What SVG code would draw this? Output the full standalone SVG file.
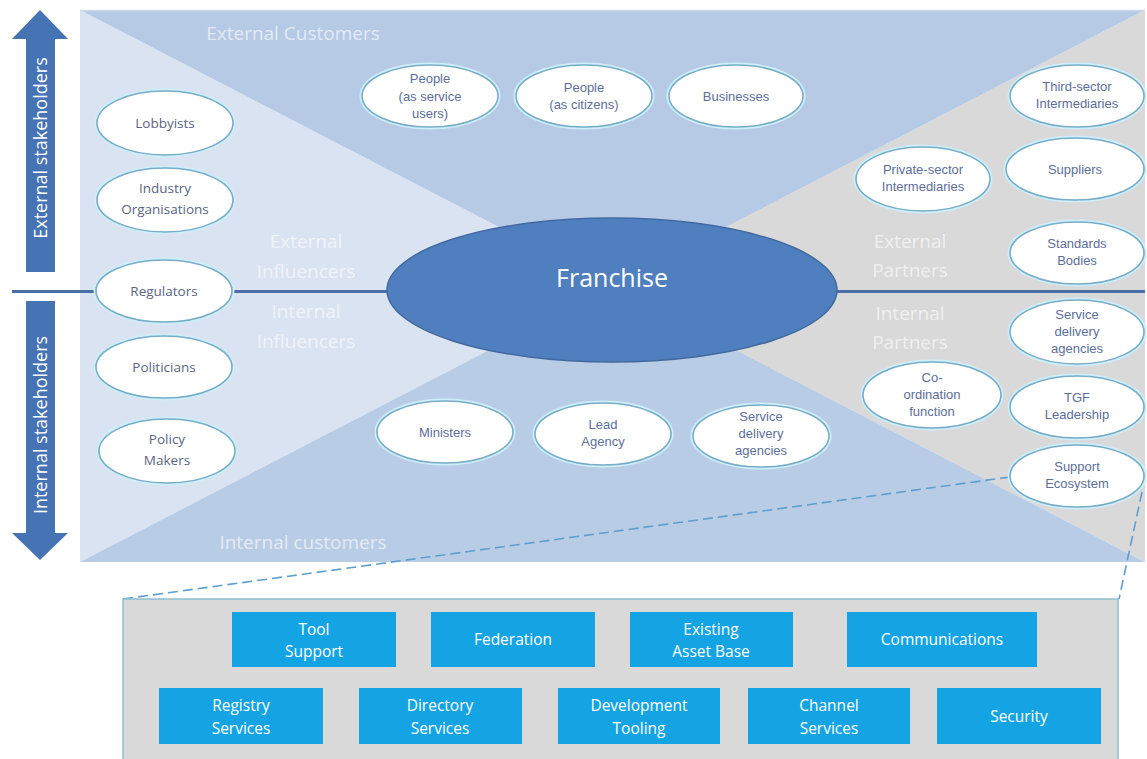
<svg xmlns="http://www.w3.org/2000/svg" width="1147" height="759" viewBox="0 0 1147 759">
<style>
.bg{stroke:none}
.zone{font-family:"Open Sans","Liberation Sans",sans-serif;font-size:19px;fill:#ffffff;fill-opacity:0.62;text-anchor:middle}
.ell{fill:#ffffff;stroke:#78adc6;stroke-width:1.6}
.glow{fill:none;stroke:#cdeefa;stroke-width:5}
.lt{font-family:"Liberation Sans",Arial,sans-serif;font-size:13px;fill:#5e6e9a;text-anchor:middle}
.lc{font-family:"Open Sans","Liberation Sans",sans-serif;font-size:13.5px;fill:#5b6582;text-anchor:middle}
.box{fill:#14a4e4}
.bt{font-family:"Open Sans","Liberation Sans",sans-serif;font-size:15.5px;fill:#ffffff;text-anchor:middle}
.arr{fill:#4673b4}
.at{font-family:"Open Sans","Liberation Sans",sans-serif;font-size:18px;fill:#ffffff;text-anchor:middle}
.dash{fill:none;stroke:#5d9fcf;stroke-width:1.6;stroke-dasharray:10 5}
</style>
<rect width="1147" height="759" fill="#ffffff"/>
<g id="background">
<polygon class="bg" points="80,10 612.5,286 80,562" fill="#dae3f1"/>
<polygon class="bg" points="1145,10 1145,562 612.5,286" fill="#d9d9d9"/>
<polygon class="bg" points="80,10 1145,10 612.5,286" fill="#b7cae5"/>
<polygon class="bg" points="80,562 1145,562 612.5,286" fill="#b9cce6"/>
<line x1="80" y1="10.5" x2="1145" y2="10.5" stroke="#ccd8ea" stroke-width="1.5"/>
</g>
<g id="zone-labels">
<text class="zone" x="293" y="40" font-size="20">External Customers</text>
<text class="zone" x="306" y="248">External</text>
<text class="zone" x="306" y="278">Influencers</text>
<text class="zone" x="306" y="318">Internal</text>
<text class="zone" x="306" y="348">Influencers</text>
<text class="zone" x="910" y="248">External</text>
<text class="zone" x="910" y="277">Partners</text>
<text class="zone" x="910" y="320">Internal</text>
<text class="zone" x="910" y="349">Partners</text>
<text class="zone" x="303" y="549" font-size="20">Internal customers</text>
</g>
<g id="stakeholder-arrows">
<polygon class="arr" points="40,10 68,39 55,39 55,272 26,272 26,39 12,39"/>
<polygon class="arr" points="26,301 55,301 55,533 68,533 40,560 12,533 26,533"/>
<text class="at" transform="translate(47,148) rotate(-90)">External stakeholders</text>
<text class="at" transform="translate(47,425) rotate(-90)">Internal stakeholders</text>
</g>
<g id="connectors">
<line x1="12" y1="291.5" x2="1145" y2="291.5" stroke="#4a6fa6" stroke-width="3"/>
<line class="dash" x1="1010" y1="477" x2="123" y2="599"/>
<line class="dash" x1="1142" y1="492" x2="1119" y2="599"/>
</g>
<g id="franchise">
<ellipse cx="612" cy="290" rx="225" ry="72" fill="#4f7fbf" stroke="#41699f" stroke-width="1.5"/>
<text x="612" y="287" font-family="Open Sans, Liberation Sans, sans-serif" font-size="25" fill="#ffffff" text-anchor="middle">Franchise</text>
</g>
<g id="lobbyists"><ellipse class="glow" cx="165" cy="123" rx="68" ry="32"/><ellipse class="ell" cx="165" cy="123" rx="68" ry="32"/><text class="lc" x="165" y="128">Lobbyists</text></g>
<g id="industry-organisations"><ellipse class="glow" cx="165" cy="200" rx="68" ry="32"/><ellipse class="ell" cx="165" cy="200" rx="68" ry="32"/><text class="lc" x="165" y="193">Industry</text><text class="lc" x="165" y="214">Organisations</text></g>
<g id="regulators"><ellipse class="glow" cx="164" cy="291" rx="68" ry="31"/><ellipse class="ell" cx="164" cy="291" rx="68" ry="31"/><text class="lc" x="164" y="296">Regulators</text></g>
<g id="politicians"><ellipse class="glow" cx="164" cy="367" rx="68" ry="31"/><ellipse class="ell" cx="164" cy="367" rx="68" ry="31"/><text class="lc" x="164" y="372">Politicians</text></g>
<g id="policy-makers"><ellipse class="glow" cx="167" cy="451" rx="68" ry="32"/><ellipse class="ell" cx="167" cy="451" rx="68" ry="32"/><text class="lc" x="167" y="444">Policy</text><text class="lc" x="167" y="465">Makers</text></g>
<g id="people-service-users"><ellipse class="glow" cx="430" cy="96" rx="68" ry="31"/><ellipse class="ell" cx="430" cy="96" rx="68" ry="31"/><text class="lt" x="430" y="83">People</text><text class="lt" x="430" y="101">(as service</text><text class="lt" x="430" y="118">users)</text></g>
<g id="people-citizens"><ellipse class="glow" cx="584" cy="96" rx="68" ry="31"/><ellipse class="ell" cx="584" cy="96" rx="68" ry="31"/><text class="lt" x="584" y="92">People</text><text class="lt" x="584" y="109">(as citizens)</text></g>
<g id="businesses"><ellipse class="glow" cx="736" cy="96" rx="67" ry="31"/><ellipse class="ell" cx="736" cy="96" rx="67" ry="31"/><text class="lt" x="736" y="101">Businesses</text></g>
<g id="third-sector"><ellipse class="glow" cx="1077" cy="96" rx="67" ry="31"/><ellipse class="ell" cx="1077" cy="96" rx="67" ry="31"/><text class="lt" x="1077" y="91">Third-sector</text><text class="lt" x="1077" y="108">Intermediaries</text></g>
<g id="private-sector"><ellipse class="glow" cx="923" cy="179" rx="67" ry="32"/><ellipse class="ell" cx="923" cy="179" rx="67" ry="32"/><text class="lt" x="923" y="174">Private-sector</text><text class="lt" x="923" y="191">Intermediaries</text></g>
<g id="suppliers"><ellipse class="glow" cx="1075" cy="169" rx="69" ry="31"/><ellipse class="ell" cx="1075" cy="169" rx="69" ry="31"/><text class="lt" x="1075" y="174">Suppliers</text></g>
<g id="standards-bodies"><ellipse class="glow" cx="1077" cy="253" rx="67" ry="31"/><ellipse class="ell" cx="1077" cy="253" rx="67" ry="31"/><text class="lt" x="1077" y="248">Standards</text><text class="lt" x="1077" y="265">Bodies</text></g>
<g id="service-delivery-right"><ellipse class="glow" cx="1077" cy="332" rx="67" ry="32"/><ellipse class="ell" cx="1077" cy="332" rx="67" ry="32"/><text class="lt" x="1077" y="319">Service</text><text class="lt" x="1077" y="336">delivery</text><text class="lt" x="1077" y="353">agencies</text></g>
<g id="coordination"><ellipse class="glow" cx="932" cy="395" rx="69" ry="33"/><ellipse class="ell" cx="932" cy="395" rx="69" ry="33"/><text class="lt" x="932" y="382">Co-</text><text class="lt" x="932" y="399">ordination</text><text class="lt" x="932" y="416">function</text></g>
<g id="tgf-leadership"><ellipse class="glow" cx="1077" cy="407" rx="67" ry="31"/><ellipse class="ell" cx="1077" cy="407" rx="67" ry="31"/><text class="lt" x="1077" y="402">TGF</text><text class="lt" x="1077" y="419">Leadership</text></g>
<g id="support-ecosystem"><ellipse class="glow" cx="1077" cy="476" rx="67" ry="31"/><ellipse class="ell" cx="1077" cy="476" rx="67" ry="31"/><text class="lt" x="1077" y="471">Support</text><text class="lt" x="1077" y="488">Ecosystem</text></g>
<g id="ministers"><ellipse class="glow" cx="445" cy="432" rx="68" ry="31"/><ellipse class="ell" cx="445" cy="432" rx="68" ry="31"/><text class="lt" x="445" y="437">Ministers</text></g>
<g id="lead-agency"><ellipse class="glow" cx="603" cy="434" rx="68" ry="31"/><ellipse class="ell" cx="603" cy="434" rx="68" ry="31"/><text class="lt" x="603" y="429">Lead</text><text class="lt" x="603" y="446">Agency</text></g>
<g id="service-delivery-bottom"><ellipse class="glow" cx="761" cy="436" rx="68" ry="31"/><ellipse class="ell" cx="761" cy="436" rx="68" ry="31"/><text class="lt" x="761" y="421">Service</text><text class="lt" x="761" y="438">delivery</text><text class="lt" x="761" y="455">agencies</text></g>
<g id="support-panel">
<rect x="123" y="599" width="995" height="175" fill="#d9d9d9" stroke="#8bbfce" stroke-width="1.5"/>
</g>
<g id="tool-support"><rect class="box" x="232" y="612" width="164" height="55"/><text class="bt" x="314" y="635">Tool</text><text class="bt" x="314" y="657">Support</text></g>
<g id="federation"><rect class="box" x="431" y="612" width="164" height="55"/><text class="bt" x="513" y="645">Federation</text></g>
<g id="existing-asset-base"><rect class="box" x="630" y="612" width="163" height="55"/><text class="bt" x="711" y="635">Existing</text><text class="bt" x="711" y="657">Asset Base</text></g>
<g id="communications"><rect class="box" x="847" y="612" width="190" height="55"/><text class="bt" x="942" y="645">Communications</text></g>
<g id="registry-services"><rect class="box" x="159" y="688" width="164" height="56"/><text class="bt" x="241" y="711">Registry</text><text class="bt" x="241" y="734">Services</text></g>
<g id="directory-services"><rect class="box" x="359" y="688" width="163" height="56"/><text class="bt" x="440" y="711">Directory</text><text class="bt" x="440" y="734">Services</text></g>
<g id="development-tooling"><rect class="box" x="558" y="688" width="162" height="56"/><text class="bt" x="639" y="711">Development</text><text class="bt" x="639" y="734">Tooling</text></g>
<g id="channel-services"><rect class="box" x="748" y="688" width="162" height="56"/><text class="bt" x="829" y="711">Channel</text><text class="bt" x="829" y="734">Services</text></g>
<g id="security"><rect class="box" x="937" y="688" width="164" height="56"/><text class="bt" x="1019" y="722">Security</text></g>
</svg>
